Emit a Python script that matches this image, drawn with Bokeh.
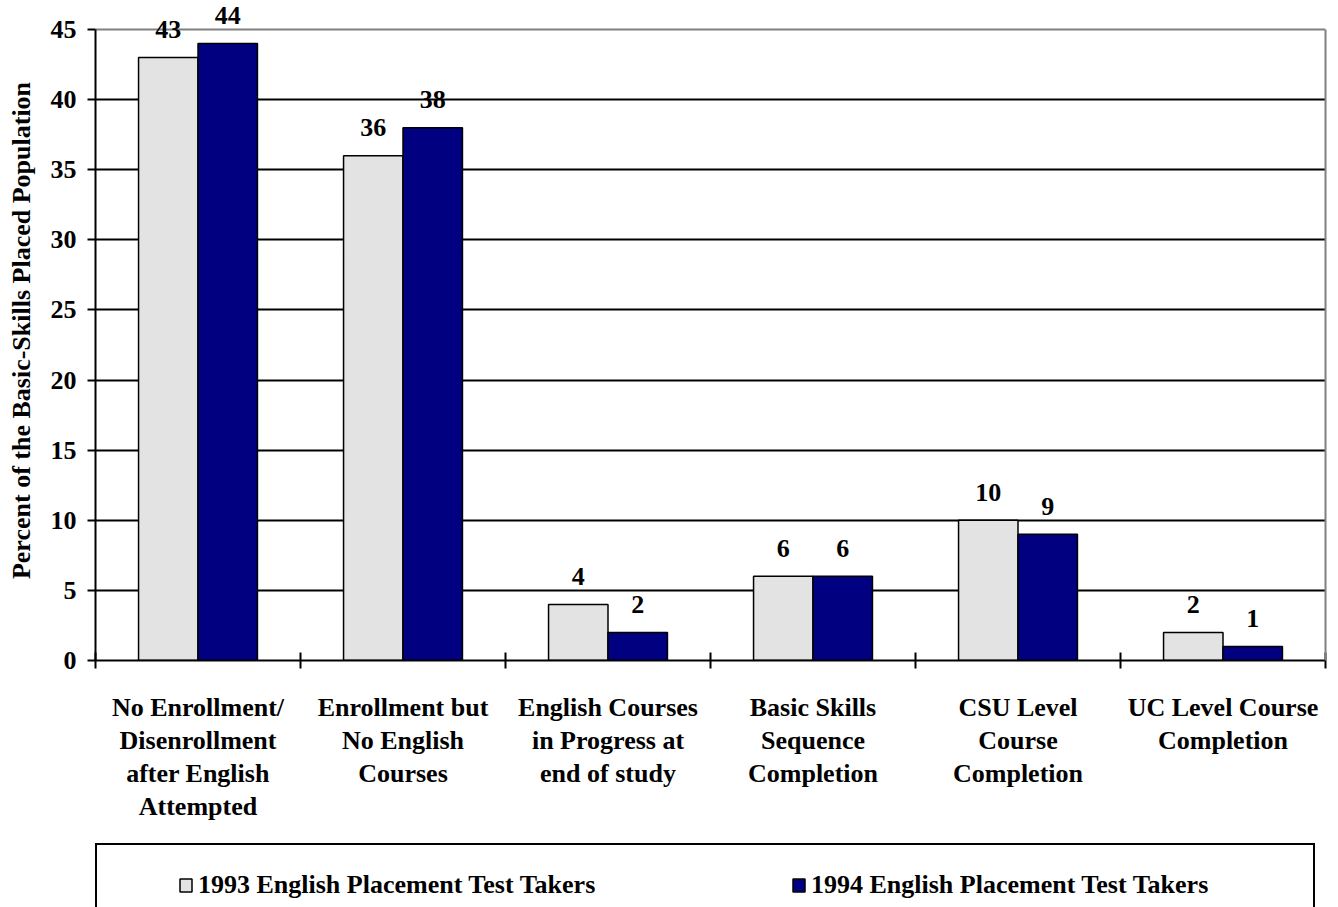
from bokeh.plotting import figure
from bokeh.layouts import column
from bokeh.models import (ColumnDataSource, Range1d, FixedTicker, Legend, LegendItem,
                          LinearAxis, Grid)
from bokeh.embed import file_html
from bokeh.resources import INLINE
from bokeh.core.properties import value

# ---- data ----
categories = [
    "No Enrollment/\nDisenrollment\nafter English\nAttempted",
    "Enrollment but\nNo English\nCourses",
    "English Courses\nin Progress at\nend of study",
    "Basic Skills\nSequence\nCompletion",
    "CSU Level\nCourse\nCompletion",
    "UC Level Course\nCompletion",
]
series_names = ["1993 English Placement Test Takers", "1994 English Placement Test Takers"]
values_1993 = [43, 36, 4, 6, 10, 2]
values_1994 = [44, 38, 2, 6, 9, 1]
y_ticks = [0, 5, 10, 15, 20, 25, 30, 35, 40, 45]
y_max = 45

FONT = "Liberation Serif"
FS = "26px"
GRAY = "#E3E3E3"
NAVY = "#000080"
BAR_W = 0.29

W = 1338
H_MAIN, H_LEG = 830, 77
FRAME_TOP, FRAME_BOTTOM = 29, 660   # pixel rows of 45 and 0

n = len(categories)
centers = [i + 0.5 for i in range(n)]

src93 = ColumnDataSource(dict(x=[c - BAR_W / 2 for c in centers], y=values_1993,
                              lab=[str(v) for v in values_1993]))
src94 = ColumnDataSource(dict(x=[c + BAR_W / 2 for c in centers], y=values_1994,
                              lab=[str(v) for v in values_1994]))

# frame runs from the top of the canvas to the 0 line; 45 sits 29 px below the top
y_end = y_max * FRAME_BOTTOM / (FRAME_BOTTOM - FRAME_TOP)

p = figure(width=W, height=H_MAIN, output_backend="svg", toolbar_location=None,
           x_range=Range1d(0, n), y_range=Range1d(0, y_end),
           min_border_left=95, min_border_right=13, min_border_top=0,
           min_border_bottom=H_MAIN - FRAME_BOTTOM)

p.outline_line_color = None
p.background_fill_color = "white"
p.border_fill_color = "white"

bar_kw = dict(width=BAR_W, line_color="black", line_width=1.5)
p.vbar(x="x", top="y", source=src93, fill_color=GRAY, **bar_kw)
p.vbar(x="x", top="y", source=src94, fill_color=NAVY, **bar_kw)

for s in (src93, src94):
    p.text(x="x", y="y", text="lab", source=s, text_align="center",
           text_baseline="alphabetic", y_offset=-28,
           text_font=value(FONT), text_font_style="bold", text_font_size=FS,
           text_color="black")

# x axis
xa = p.xaxis[0]
xa.ticker = FixedTicker(ticks=centers, minor_ticks=list(range(n + 1)))
xa.major_label_overrides = {c: lab for c, lab in zip(centers, categories)}
xa.major_tick_in = 0
xa.major_tick_out = 0
xa.minor_tick_in = 8
xa.minor_tick_out = 8
xa.minor_tick_line_width = 2
xa.minor_tick_line_color = "black"
xa.axis_line_width = 2
xa.axis_line_color = "black"
xa.major_label_standoff = 24
xa.major_label_text_font = FONT
xa.major_label_text_font_style = "bold"
xa.major_label_text_font_size = FS
xa.major_label_text_line_height = 1.14
xa.major_label_text_color = "black"

# y axis
ya = p.yaxis[0]
ya.ticker = FixedTicker(ticks=y_ticks)
ya.bounds = (0, y_max)
ya.minor_tick_line_color = None
ya.major_tick_in = 0
ya.major_tick_out = 8
ya.major_tick_line_width = 2
ya.axis_line_width = 2
ya.major_label_standoff = 11
ya.major_label_text_font = FONT
ya.major_label_text_font_style = "bold"
ya.major_label_text_font_size = FS
ya.major_label_text_color = "black"
ya.axis_label = "Percent of the Basic-Skills Placed Population"
ya.axis_label_text_font = FONT
ya.axis_label_text_font_style = "bold"
ya.axis_label_text_font_size = FS
ya.axis_label_text_color = "black"
ya.axis_label_standoff = 12

# gray right border as an unlabeled axis
ra = LinearAxis(bounds=(0, y_max), ticker=FixedTicker(ticks=[]),
                axis_line_color="#808080", axis_line_width=2,
                major_tick_line_color=None, minor_tick_line_color=None,
                major_label_text_font_size="0px")
p.add_layout(ra, "right")

p.xgrid.grid_line_color = None
p.ygrid.ticker = FixedTicker(ticks=y_ticks[1:-1])
p.ygrid.grid_line_color = "black"
p.ygrid.grid_line_width = 2
p.add_layout(Grid(dimension=1, ticker=FixedTicker(ticks=[y_max]),
                  grid_line_color="#808080", grid_line_width=2))

# ---- legend strip (separate figure below the chart) ----
q = figure(width=W, height=H_LEG, output_backend="svg", toolbar_location=None,
           x_range=Range1d(0, n), y_range=Range1d(0, y_end),
           x_axis_location=None, y_axis_location=None,
           min_border_left=0, min_border_right=0, min_border_top=0, min_border_bottom=0)
q.outline_line_color = None
q.xgrid.visible = False
q.ygrid.visible = False
l93 = q.vbar(x="x", top="y", source=src93, fill_color=GRAY, visible=False, **bar_kw)
l94 = q.vbar(x="x", top="y", source=src94, fill_color=NAVY, visible=False, **bar_kw)

legend = Legend(items=[LegendItem(label=series_names[0], renderers=[l93]),
                       LegendItem(label=series_names[1], renderers=[l94])],
                location=(0, -20), orientation="horizontal",
                padding=25, spacing=116, margin=0,
                glyph_width=15, glyph_height=16, label_standoff=5, label_width=477,
                label_text_font=FONT, label_text_font_style="bold",
                label_text_font_size=FS, label_text_color="black",
                border_line_color="black", border_line_width=2, border_line_alpha=1.0,
                background_fill_color="white", background_fill_alpha=1.0,
                title=" ", title_location="left", title_text_font_size="1px",
                title_standoff=55)
q.add_layout(legend, "center")

layout = column(p, q, spacing=0)
open("out.html", "w").write(file_html(layout, INLINE))
